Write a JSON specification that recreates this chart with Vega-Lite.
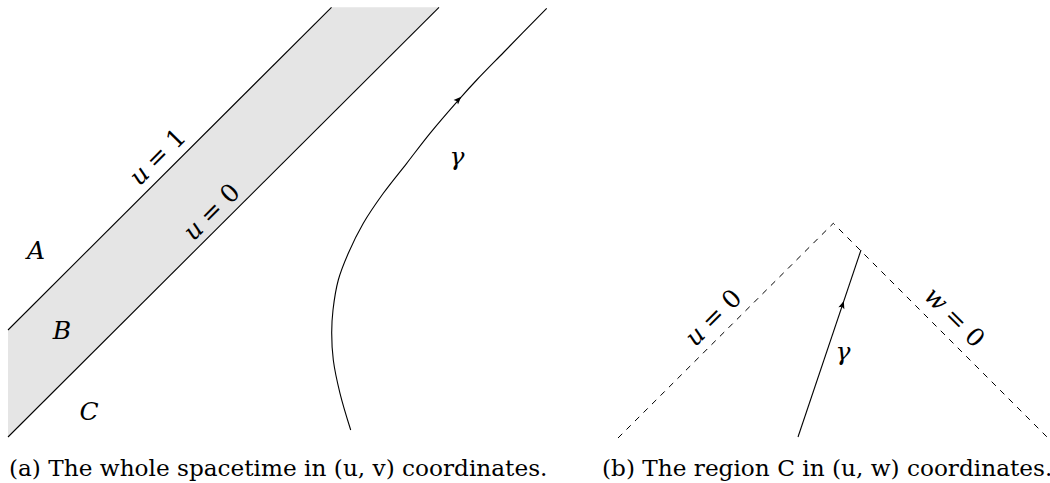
{
  "$schema": "https://vega.github.io/schema/vega-lite/v6.json",
  "width": 1050,
  "height": 483,
  "autosize": {"type": "fit", "contains": "padding"},
  "padding": 0,
  "background": "white",
  "config": {"view": {"stroke": null}},
  "datasets": {
    "band": [
      {"x": 8, "top": 330, "bot": 437},
      {"x": 331.5, "top": 7.3, "bot": 114},
      {"x": 439, "top": 7.3, "bot": 7.3}
    ],
    "solid": [
      {"id": "u1", "i": 0, "x": 8, "y": 330},
      {"id": "u1", "i": 1, "x": 331.5, "y": 7.3},
      {"id": "u0", "i": 0, "x": 8, "y": 437},
      {"id": "u0", "i": 1, "x": 439, "y": 7.3},
      {"id": "gb", "i": 0, "x": 798, "y": 437},
      {"id": "gb", "i": 1, "x": 861, "y": 250}
    ],
    "dashed": [
      {"i": 0, "x": 618, "y": 438},
      {"i": 1, "x": 833.3, "y": 223.3},
      {"i": 2, "x": 1048, "y": 438}
    ],
    "gamma": [
      {"i": 0, "x": 350.7, "y": 430},
      {"i": 1, "x": 340, "y": 393.3},
      {"i": 2, "x": 333.3, "y": 360},
      {"i": 3, "x": 331.7, "y": 333},
      {"i": 4, "x": 333, "y": 310},
      {"i": 5, "x": 338.3, "y": 280},
      {"i": 6, "x": 348.3, "y": 253.3},
      {"i": 7, "x": 363.3, "y": 223.3},
      {"i": 8, "x": 383.3, "y": 193.3},
      {"i": 9, "x": 406.7, "y": 163.3},
      {"i": 10, "x": 430, "y": 133.3},
      {"i": 11, "x": 460, "y": 98.3},
      {"i": 12, "x": 476.7, "y": 80},
      {"i": 13, "x": 504, "y": 52},
      {"i": 14, "x": 546.7, "y": 8.3}
    ],
    "arrows": [
      {"x": 458.3, "y": 99.8, "angle": 45},
      {"x": 842.5, "y": 305, "angle": 18.6}
    ],
    "italicCenter": [
      {"text": "A", "x": 36, "y": 251},
      {"text": "B", "x": 62, "y": 331},
      {"text": "C", "x": 89, "y": 412},
      {"text": "γ", "x": 457, "y": 157},
      {"text": "γ", "x": 843, "y": 352}
    ],
    "italicRight": [
      {"text": "u", "x": 145.2, "y": 169.8, "angle": 315},
      {"text": "u", "x": 199.2, "y": 224.8, "angle": 315},
      {"text": "u", "x": 700.9, "y": 330.4, "angle": 315},
      {"text": "w", "x": 943.5, "y": 306.8, "angle": 45}
    ],
    "normalLeft": [
      {"text": "=\u00a01", "x": 145.2, "y": 169.8, "angle": 315},
      {"text": "=\u00a00", "x": 199.2, "y": 224.8, "angle": 315},
      {"text": "=\u00a00", "x": 700.9, "y": 330.4, "angle": 315},
      {"text": "=\u00a00", "x": 943.5, "y": 306.8, "angle": 45}
    ],
    "captions": [
      {"text": "(a) The whole spacetime in (u, v) coordinates.", "x": 9, "y": 476},
      {"text": "(b) The region C in (u, w) coordinates.", "x": 602, "y": 476}
    ]
  },
  "layer": [
    {
      "data": {"name": "band"},
      "mark": {"type": "area", "color": "#e5e5e5", "opacity": 1},
      "encoding": {
        "x": {"field": "x", "type": "quantitative", "scale": {"domain": [0, 1050], "nice": false, "zero": false}, "axis": null},
        "y": {"field": "top", "type": "quantitative", "scale": {"domain": [0, 483], "nice": false, "zero": false, "reverse": true}, "axis": null},
        "y2": {"field": "bot"}
      }
    },
    {
      "data": {"name": "solid"},
      "mark": {"type": "line", "color": "black", "strokeWidth": 1.1},
      "encoding": {
        "x": {"field": "x", "type": "quantitative"},
        "y": {"field": "y", "type": "quantitative"},
        "detail": {"field": "id"},
        "order": {"field": "i"}
      }
    },
    {
      "data": {"name": "dashed"},
      "mark": {"type": "line", "color": "black", "strokeWidth": 1, "strokeDash": [6, 6]},
      "encoding": {
        "x": {"field": "x", "type": "quantitative"},
        "y": {"field": "y", "type": "quantitative"},
        "order": {"field": "i"}
      }
    },
    {
      "data": {"name": "gamma"},
      "mark": {"type": "line", "color": "black", "strokeWidth": 1.1, "interpolate": "catmull-rom"},
      "encoding": {
        "x": {"field": "x", "type": "quantitative"},
        "y": {"field": "y", "type": "quantitative"},
        "order": {"field": "i"}
      }
    },
    {
      "data": {"name": "arrows"},
      "mark": {"type": "point", "shape": "M0,-1L0.75,0.85L0,0.45L-0.75,0.85Z", "filled": true, "color": "black", "opacity": 1, "size": 70},
      "encoding": {
        "x": {"field": "x", "type": "quantitative"},
        "y": {"field": "y", "type": "quantitative"},
        "angle": {"field": "angle", "type": "quantitative", "scale": null}
      }
    },
    {
      "data": {"name": "italicCenter"},
      "mark": {"type": "text", "font": "DejaVu Serif", "fontSize": 25, "fontStyle": "italic", "align": "center", "baseline": "middle", "color": "black"},
      "encoding": {
        "x": {"field": "x", "type": "quantitative"},
        "y": {"field": "y", "type": "quantitative"},
        "text": {"field": "text"}
      }
    },
    {
      "data": {"name": "italicRight"},
      "mark": {"type": "text", "font": "DejaVu Serif", "fontSize": 25, "fontStyle": "italic", "align": "right", "baseline": "middle", "color": "black"},
      "encoding": {
        "x": {"field": "x", "type": "quantitative"},
        "y": {"field": "y", "type": "quantitative"},
        "text": {"field": "text"},
        "angle": {"field": "angle", "type": "quantitative", "scale": null}
      }
    },
    {
      "data": {"name": "normalLeft"},
      "mark": {"type": "text", "font": "DejaVu Serif", "fontSize": 25, "align": "left", "baseline": "middle", "color": "black", "dx": 7},
      "encoding": {
        "x": {"field": "x", "type": "quantitative"},
        "y": {"field": "y", "type": "quantitative"},
        "text": {"field": "text"},
        "angle": {"field": "angle", "type": "quantitative", "scale": null}
      }
    },
    {
      "data": {"name": "captions"},
      "mark": {"type": "text", "font": "DejaVu Serif", "fontSize": 23.2, "baseline": "alphabetic", "align": "left", "color": "black", "clip": true},
      "encoding": {
        "x": {"field": "x", "type": "quantitative"},
        "y": {"field": "y", "type": "quantitative"},
        "text": {"field": "text"}
      }
    }
  ]
}
